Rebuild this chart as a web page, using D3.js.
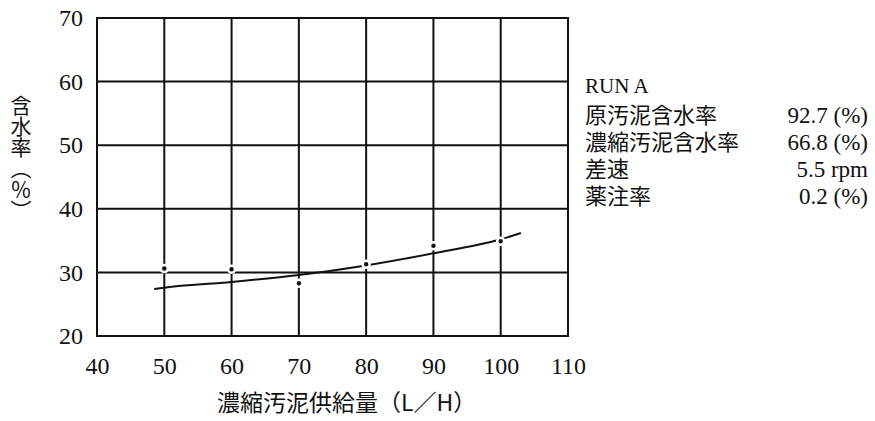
<!DOCTYPE html>
<meta charset="utf-8">
<script src="https://d3js.org/d3.v7.min.js"></script>
<style>
    body { margin: 0; background: #fff; }
    .tick-label { font-family: "Liberation Serif", serif; font-size: 24px; fill: #111; }
    .cjk { font-family: "Noto Sans CJK JP", sans-serif; font-size: 23px; fill: #111; }
    .grid line { stroke: #111; stroke-width: 2; }
</style>
<body>
<script>
    // measured points (feed rate L/H vs moisture %)
    const feedRate = [50, 60, 70, 80, 90, 100];
    const moisture = [30.6, 30.5, 28.3, 31.3, 34.2, 34.9];

    // hand drawn trend curve
    const curveX = [48.5, 50, 60, 70, 80, 90, 100, 103];
    const curveY = [27.4, 27.6, 28.5, 29.6, 31.1, 33.0, 35.2, 36.2];

    const xTicks = [40, 50, 60, 70, 80, 90, 100, 110];
    const yTicks = [20, 30, 40, 50, 60, 70];

    const legendTitle = "RUN A";
    const legendNames = ["原汚泥含水率", "濃縮汚泥含水率", "差速", "薬注率"];
    const legendValues = ["92.7 (%)", "66.8 (%)", "5.5 rpm", "0.2 (%)"];

    const width = 875, height = 421;
    const margin = {top: 18, left: 97, right: 307, bottom: 85};

    const x = d3.scaleLinear().domain([40, 110]).range([margin.left, width - margin.right]);
    const y = d3.scaleLinear().domain([20, 70]).range([height - margin.bottom, margin.top]);

    const svg = d3.select("body").append("svg")
        .attr("width", width)
        .attr("height", height);

    // grid + frame
    const grid = svg.append("g").attr("class", "grid");
    grid.selectAll(".vx").data(xTicks).enter().append("line")
        .attr("x1", d => x(d)).attr("x2", d => x(d))
        .attr("y1", y(20) + 1).attr("y2", y(70) - 1);
    grid.selectAll(".hy").data(yTicks).enter().append("line")
        .attr("y1", d => y(d)).attr("y2", d => y(d))
        .attr("x1", x(40) - 1).attr("x2", x(110) + 1);

    // axes (labels only)
    const xAxis = svg.append("g")
        .attr("transform", "translate(0," + y(20) + ")")
        .call(d3.axisBottom(x).tickValues(xTicks).tickSize(0).tickPadding(21));
    const yAxis = svg.append("g")
        .attr("transform", "translate(" + x(40) + ",0)")
        .call(d3.axisLeft(y).tickValues(yTicks).tickSize(0).tickPadding(14));
    [xAxis, yAxis].forEach(a => {
        a.select(".domain").remove();
        a.selectAll("text").attr("class", "tick-label").attr("font-size", null).attr("font-family", null);
    });

    // trend curve
    const line = d3.line()
        .x(d => x(d[0]))
        .y(d => y(d[1]))
        .curve(d3.curveMonotoneX);
    svg.append("path")
        .datum(curveX.map((v, i) => [v, curveY[i]]))
        .attr("d", line)
        .attr("fill", "none")
        .attr("stroke", "#111")
        .attr("stroke-width", 2);

    // points
    svg.selectAll(".pt").data(feedRate).enter().append("circle")
        .attr("cx", d => x(d))
        .attr("cy", (d, i) => y(moisture[i]))
        .attr("r", 3.5)
        .attr("fill", "#111")
        .attr("stroke", "#fff")
        .attr("stroke-width", 2.5);

    // x title
    svg.append("text")
        .attr("class", "cjk")
        .attr("x", 217)
        .attr("y", 411)
        .text("濃縮汚泥供給量（L／H）");

    // y title, vertical writing
    svg.append("text")
        .attr("class", "cjk")
        .attr("x", 21)
        .attr("y", 95)
        .style("writing-mode", "vertical-rl")
        .style("font-size", "21px")
        .text("含水率（％）");

    // legend block
    svg.append("text")
        .attr("class", "tick-label")
        .attr("x", 585)
        .attr("y", 93)
        .style("font-size", "21px")
        .text(legendTitle);
    const names = svg.append("text").attr("class", "cjk").style("font-size", "22px");
    const vals = svg.append("text").attr("class", "tick-label")
        .attr("text-anchor", "end")
        .style("font-size", "23px");
    legendNames.forEach((n, i) => {
        names.append("tspan").attr("x", 585).attr("y", 123 + i * 27).text(n);
        vals.append("tspan").attr("x", 868).attr("y", 123 + i * 27).text(legendValues[i]);
    });
</script>
</body>
